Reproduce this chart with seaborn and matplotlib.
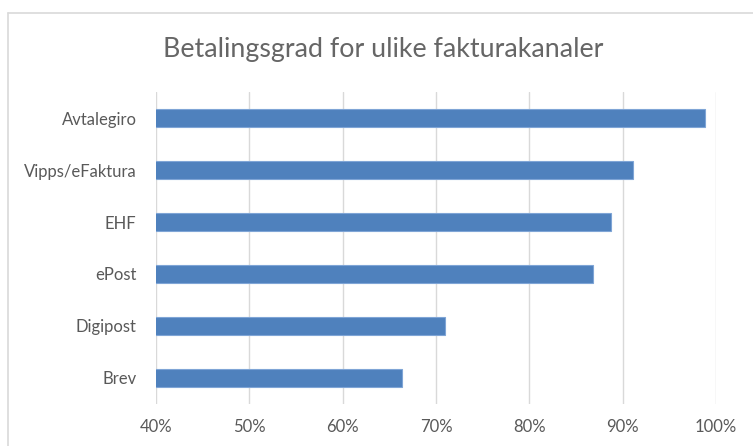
import pandas as pd
import matplotlib.pyplot as plt
import seaborn as sns
from matplotlib.ticker import PercentFormatter
from matplotlib.lines import Line2D


# =========================
# 1. 数据
# =========================
kanaler = ["Avtalegiro", "Vipps/eFaktura", "EHF", "ePost", "Digipost", "Brev"]
betalingsgrad = [0.988, 0.911, 0.887, 0.868, 0.710, 0.664]
x_ticks = [0.4, 0.5, 0.6, 0.7, 0.8, 0.9, 1.0]

TITLE = "Betalingsgrad for ulike fakturakanaler"


# =========================
# 2. 画图
# =========================
def plot_chart():
    sns.set_style("white")
    plt.rcParams["font.family"] = ["Lato", "DejaVu Sans"]

    df = pd.DataFrame({"kanal": kanaler, "grad": betalingsgrad})

    fig = plt.figure(figsize=(7.53, 4.46), dpi=100)
    ax = fig.add_axes([0.2072, 0.0942, 0.7437, 0.6995])

    sns.barplot(data=df, x="grad", y="kanal", orient="h", ax=ax,
                color="#4F81BD", saturation=1, width=0.35,
                edgecolor="#7FA5D6", linewidth=0.8)

    ax.set_xlim(x_ticks[0], x_ticks[-1])
    ax.set_xticks(x_ticks)
    ax.xaxis.set_major_formatter(PercentFormatter(1.0, decimals=0))
    ax.set_xlabel("")
    ax.set_ylabel("")

    ax.grid(axis="x", color="#D9D9D9", linewidth=1.0)
    ax.set_axisbelow(True)
    for s in ax.spines.values():
        s.set_visible(False)

    ax.tick_params(axis="both", length=0, labelsize=12, colors="#595959")
    ax.tick_params(axis="x", pad=11)
    ax.tick_params(axis="y", pad=14)

    fig.text(0.509, 0.889, TITLE, ha="center", va="center",
             fontsize=19.3, color="#666666")

    # 外框
    fig.add_artist(Line2D([8 / 753, 8 / 753], [0, 1 - 13 / 446],
                          transform=fig.transFigure, color="#D9D9D9", lw=1.2))
    fig.add_artist(Line2D([8 / 753, 1], [1 - 13 / 446, 1 - 13 / 446],
                          transform=fig.transFigure, color="#D9D9D9", lw=1.2))

    fig.savefig("out.png", dpi=100)


if __name__ == "__main__":
    plot_chart()
